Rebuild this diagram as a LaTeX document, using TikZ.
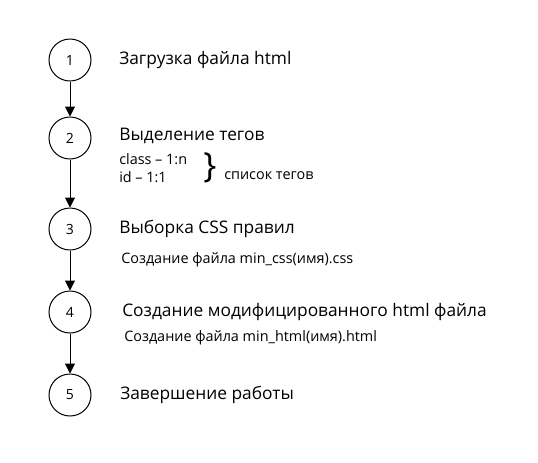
\documentclass[tikz,border=0pt]{standalone}
\usepackage{fontspec}
\setmainfont{Open Sans}
\usetikzlibrary{arrows.meta}
\tikzset{
  stage/.style={draw,circle,minimum size=31.5pt,inner sep=0pt,line width=0.75pt,font=\fontsize{10.5}{12}\selectfont},
  title/.style={anchor=west,inner sep=0pt,font=\fontsize{13}{15}\selectfont},
  note/.style={anchor=west,inner sep=0pt,font=\fontsize{10.8}{12}\selectfont},
  flow/.style={line width=0.75pt,-{Triangle[length=7.5pt,width=7.5pt]}}
}
\begin{document}
\begin{tikzpicture}[x=0.75pt,y=-0.75pt]
\useasboundingbox (0,0) rectangle (538,462);
\foreach \i/\y in {1/60,2/138,3/229,4/312,5/395}
	\node[stage] (n\i) at (70,\y) {\i};
\foreach \a/\b in {1/2,2/3,3/4,4/5}
	\draw[flow] (n\a) -- (n\b);

\node[title] (t1) at (119,60) {Загрузка файла html};
\node[title] (t2) at (119,136) {Выделение тегов};
\node[note] (c1) at (119,159) {class -- 1:n};
\node[note] (c2) at (119,177) {id -- 1:1};
\node[inner sep=0pt,font=\fontsize{26}{26}\selectfont] (br) at (210,168) {\}};
\node[note] (lst) at (224,176) {список тегов};

\node[title] (t3) at (119,229) {Выборка CSS правил};
\node[note] (f3) at (121,260) {Создание файла min\_css(имя).css};

\node[title] (t4) at (122,312) {Создание модифицированного html файла};
\node[note] (f4) at (124,338) {Создание файла min\_html(имя).html};

\node[title] (t5) at (120,395) {Завершение работы};
\end{tikzpicture}
\end{document}
